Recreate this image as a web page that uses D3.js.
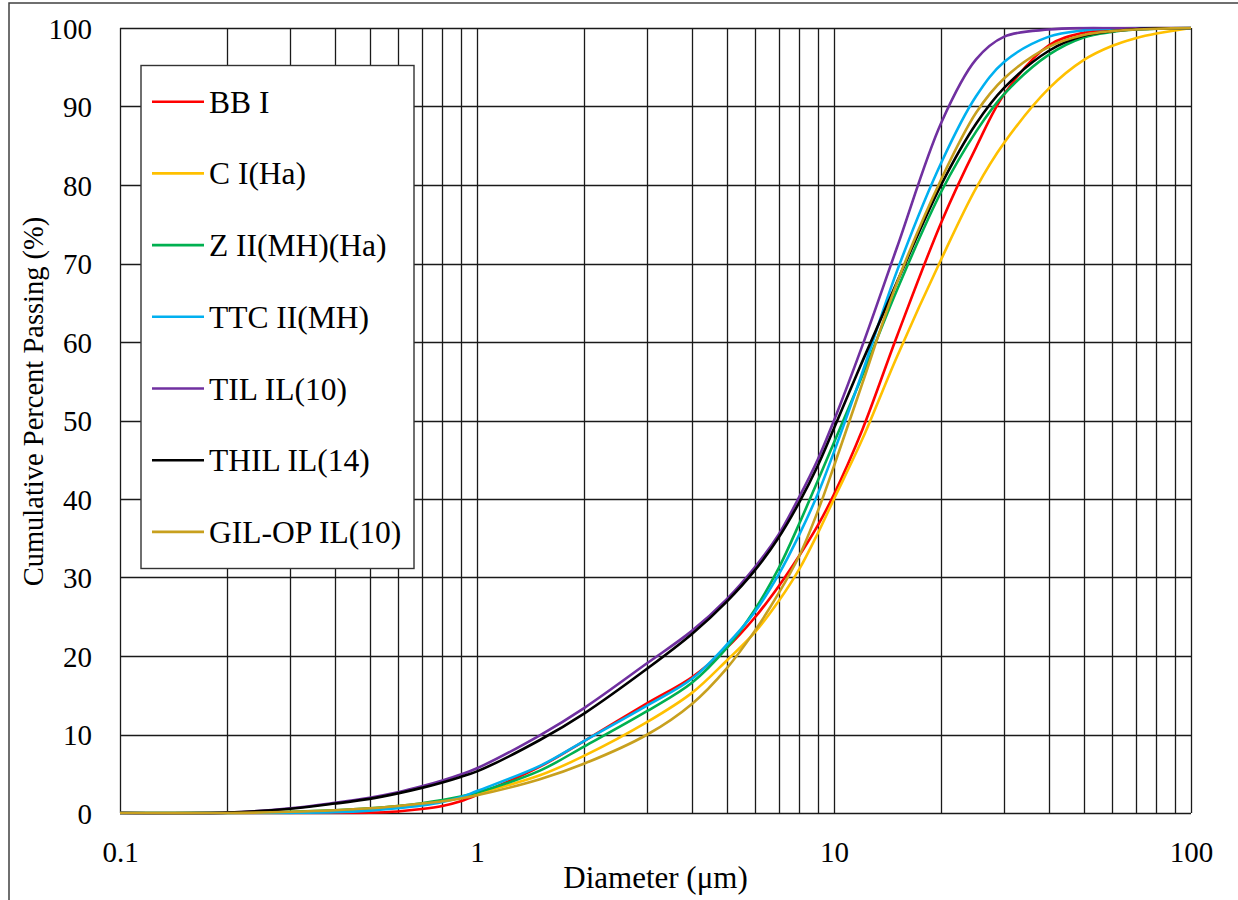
<!DOCTYPE html>
<html>
<head>
<meta charset="utf-8">
<script src="https://cdn.jsdelivr.net/npm/d3@7/dist/d3.min.js"></script>
<style>
  html, body { margin: 0; padding: 0; background: #fff; }
  svg { display: block; }
  text { font-family: "Liberation Serif", "Times New Roman", serif; fill: #000; }
</style>
</head>
<body>
<svg id="chart" width="1238" height="900"></svg>
<script>
// ---- data ----
const diameters = [0.1, 0.2, 0.3, 0.4, 0.5, 0.6, 0.7, 0.8, 0.9, 1, 1.5, 2, 3, 4, 5, 6, 7, 8, 9, 10, 12, 15, 20, 25, 30, 40, 50, 60, 70, 80, 100];

const seriesNames = ["BB I", "C I(Ha)", "Z II(MH)(Ha)", "TTC II(MH)", "TIL IL(10)", "THIL IL(14)", "GIL-OP IL(10)"];
const seriesColors = ["#FF0000", "#FFC000", "#00B050", "#00B0F0", "#7030A0", "#000000", "#C8A01E"];

const bbI    = [0, 0, 0, 0.01, 0.05, 0.2, 0.5, 0.9, 1.5, 2.3, 5.9, 9.2, 14.0, 17.3, 21.0, 24.9, 28.9, 32.8, 36.6, 40.6, 48.8, 60.7, 75.3, 84.8, 91.6, 97.8, 99.4, 99.8, 99.95, 100, 100];
const cI     = [0, 0, 0.1, 0.3, 0.55, 0.85, 1.15, 1.5, 1.95, 2.45, 4.8, 7.3, 11.6, 15.3, 19.4, 23.0, 27.0, 31.1, 35.6, 40.0, 47.6, 58.1, 70.6, 79.6, 85.4, 92.3, 95.9, 97.7, 98.7, 99.3, 100];
const zII    = [0, 0.02, 0.15, 0.35, 0.6, 0.9, 1.25, 1.65, 2.1, 2.6, 5.4, 8.5, 13.0, 16.6, 21.0, 25.9, 31.2, 36.9, 42.3, 47.2, 55.7, 66.6, 79.2, 86.8, 91.6, 96.6, 98.8, 99.5, 99.8, 99.9, 100];
const ttcII  = [0, 0, 0.02, 0.1, 0.3, 0.6, 0.95, 1.4, 2.0, 2.8, 6.0, 9.2, 13.7, 17.1, 21.4, 25.6, 30.4, 35.5, 40.6, 46.0, 56.1, 69.0, 82.9, 91.3, 95.7, 98.9, 99.7, 99.9, 100, 100, 100];
const tilIL  = [0, 0.05, 0.6, 1.3, 1.95, 2.65, 3.4, 4.15, 4.9, 5.7, 9.9, 13.4, 19.1, 23.2, 27.2, 31.3, 35.5, 40.3, 45.0, 50.0, 59.5, 72.0, 88.0, 96.0, 98.9, 99.8, 100, 100, 100, 100, 100];
const thilIL = [0, 0.05, 0.55, 1.2, 1.8, 2.5, 3.2, 3.9, 4.6, 5.3, 9.3, 12.7, 18.4, 22.8, 26.9, 30.9, 35.1, 39.6, 44.2, 49.0, 57.5, 67.6, 80.1, 87.8, 92.4, 97.1, 99.0, 99.6, 99.85, 99.95, 100];
const gilOP  = [0, 0, 0.15, 0.35, 0.6, 0.9, 1.2, 1.5, 1.85, 2.25, 4.3, 6.3, 10.0, 13.9, 18.4, 23.2, 28.0, 32.8, 38.4, 44.2, 54.7, 67.5, 80.8, 89.2, 93.6, 97.6, 99.1, 99.6, 99.8, 99.9, 100];

const seriesValues = [bbI, cI, zII, ttcII, tilIL, thilIL, gilOP];

const xTickLabels = [0.1, 1, 10, 100];
const yTickLabels = [0, 10, 20, 30, 40, 50, 60, 70, 80, 90, 100];
const xTitle = "Diameter (\u03BCm)";
const yTitle = "Cumulative Percent Passing (%)";

// ---- drawing ----
const svg = d3.select("#chart");
const plot = { left: 120, right: 1191, top: 28, bottom: 813 };

const x = d3.scaleLog().domain([0.1, 100]).range([plot.left, plot.right]);
const y = d3.scaleLinear().domain([0, 100]).range([plot.bottom, plot.top]);

svg.append("defs").append("clipPath").attr("id", "plotclip")
  .append("rect").attr("x", plot.left - 2).attr("y", plot.top - 1.5)
  .attr("width", plot.right - plot.left + 4).attr("height", plot.bottom - plot.top + 3);

// outer frame
svg.append("path")
  .attr("d", `M9,905 L9,3 L1245,3`)
  .attr("fill", "none").attr("stroke", "#404040").attr("stroke-width", 1.5);

// grid
const vTicks = [];
[0.1, 1, 10].forEach(dec => { for (let k = 1; k <= 9; k++) vTicks.push(+(dec * k).toPrecision(3)); });
vTicks.push(100);

const grid = svg.append("g").attr("stroke", "#1a1a1a").attr("stroke-width", 1.3);
grid.selectAll("line.v").data(vTicks).join("line")
  .attr("class", "v")
  .attr("x1", d => Math.round(x(d)) + 0.5).attr("x2", d => Math.round(x(d)) + 0.5)
  .attr("y1", plot.top).attr("y2", plot.bottom);
grid.selectAll("line.h").data(yTickLabels).join("line")
  .attr("class", "h")
  .attr("x1", plot.left).attr("x2", plot.right)
  .attr("y1", d => Math.round(y(d)) + 0.5).attr("y2", d => Math.round(y(d)) + 0.5);

// tick labels via d3 axes
const xAxis = d3.axisBottom(x).tickValues(xTickLabels).tickFormat(d => String(d)).tickSize(0).tickPadding(0);
const gx = svg.append("g").attr("transform", `translate(0,${plot.bottom})`).call(xAxis);
gx.select(".domain").remove();
gx.selectAll("text").attr("font-size", 29).attr("dy", null).attr("y", 49)
  .style("font-family", '"Liberation Serif", serif').attr("fill", "#000");

const yAxis = d3.axisLeft(y).tickValues(yTickLabels).tickFormat(d => String(d)).tickSize(0).tickPadding(0);
const gy = svg.append("g").attr("transform", `translate(${plot.left - 28},0)`).call(yAxis);
gy.select(".domain").remove();
gy.selectAll("text").attr("font-size", 29).attr("dy", "0.35em").attr("x", 0)
  .style("font-family", '"Liberation Serif", serif').attr("fill", "#000");

// series lines
const line = d3.line()
  .x((d, i) => x(diameters[i]))
  .y(d => y(d))
  .curve(d3.curveCatmullRom.alpha(0.5));

svg.append("g").attr("clip-path", "url(#plotclip)")
  .selectAll("path").data(seriesValues).join("path")
  .attr("d", d => line(d))
  .attr("fill", "none")
  .attr("stroke", (d, i) => seriesColors[i])
  .attr("stroke-width", 2.6)
  .attr("stroke-linejoin", "round");

// axis titles
svg.append("text").attr("x", (plot.left + plot.right) / 2).attr("y", 888)
  .attr("text-anchor", "middle").attr("font-size", 31).text(xTitle);
svg.append("text").attr("transform", `translate(43,${(plot.top + plot.bottom) / 2 - 19}) rotate(-90)`)
  .attr("text-anchor", "middle").attr("font-size", 28.5).text(yTitle);

// legend
const legend = svg.append("g");
legend.append("rect").attr("x", 141).attr("y", 65.5).attr("width", 273).attr("height", 503)
  .attr("fill", "#fff").attr("stroke", "#333").attr("stroke-width", 1.4);
const items = legend.selectAll("g.item").data(seriesNames).join("g")
  .attr("class", "item")
  .attr("transform", (d, i) => `translate(0,${101.7 + i * 71.7})`);
items.append("line").attr("x1", 152).attr("x2", 204).attr("y1", 0).attr("y2", 0)
  .attr("stroke", (d, i) => seriesColors[i]).attr("stroke-width", 2.6);
items.append("text").attr("x", 209).attr("y", 0).attr("dy", "0.35em")
  .attr("font-size", 31.5).text(d => d);
</script>
</body>
</html>
